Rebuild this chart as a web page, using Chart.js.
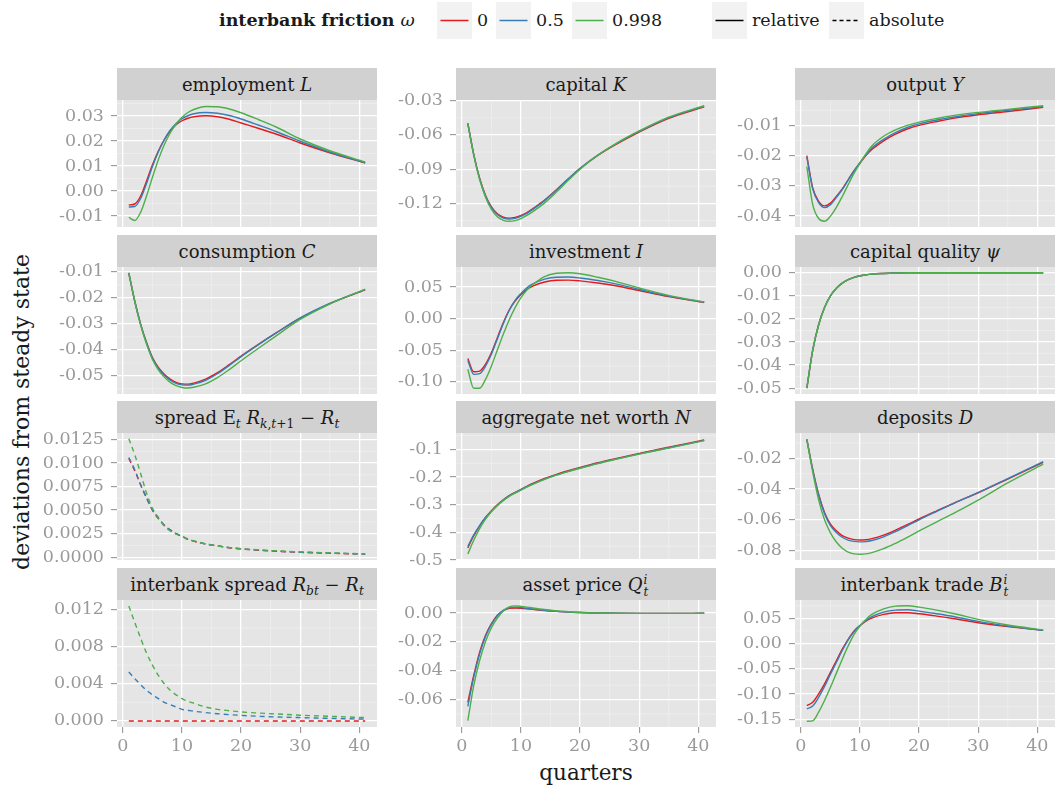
<!DOCTYPE html>
<html lang="en">
<head>
<meta charset="UTF-8">
<title>Impulse responses by interbank friction</title>
<script src="https://cdn.jsdelivr.net/npm/chart.js"></script>
<style>
  body {
    margin: 0;
    width: 1055px;
    height: 791px;
    position: relative;
    overflow: hidden;
    background: #fff;
    font-family: "DejaVu Serif", serif;
    color: #1a1a1a;
  }
  .strip {
    position: absolute;
    height: 32px;
    background: #D1D1D1;
    text-align: center;
    font-size: 18px;
    line-height: 34px;
    white-space: nowrap;
  }
  .strip sub { font-size: 0.68em; vertical-align: -0.3em; line-height: 0; }
  /* stacked super/subscript, e.g. Q_t^i */
  .ss { position: relative; display: inline-block; width: 7px; height: 0; }
  .ss span { position: absolute; left: 1px; font-size: 12px; line-height: 12px; font-style: italic; }
  .ss .up { top: -17px; }
  .ss .dn { top: -5px; }
  .panel { position: absolute; }
  .key { position: absolute; top: 2px; width: 35px; height: 37px; background: #F2F2F2; }
  .lab { position: absolute; top: 8px; font-size: 17.5px; line-height: 24px; white-space: nowrap; }
  #ytitle {
    position: absolute; left: 21px; top: 412px;
    transform: translate(-50%, -50%) rotate(-90deg);
    font-size: 22px; white-space: nowrap;
  }
  #xtitle {
    position: absolute; left: 586px; top: 772px;
    transform: translate(-50%, -50%);
    font-size: 21.5px; white-space: nowrap;
  }
</style>
</head>
<body>
<div id="legend"></div>
<div id="ytitle">deviations from steady state</div>
<div id="xtitle">quarters</div>

<script>
// ---- data (each variable: [omega = 0, omega = 0.5, omega = 0.998]) ----
const quarters = [1, 2, 3, 4, 5, 6, 7, 8, 9, 10, 11, 12, 14, 16, 18, 20, 23, 26, 30, 35, 41];
const xTickValues = [0, 10, 20, 30, 40];
const omegaLabels = ['0', '0.5', '0.998'];
const lineTypeLabels = ['relative', 'absolute'];

const employment = [
  [-0.0056, -0.0052, -0.0020, 0.0040, 0.0105, 0.0160, 0.0205, 0.0240, 0.0265, 0.0281, 0.0291, 0.0297, 0.0301, 0.0297, 0.0287, 0.0272, 0.0250, 0.0227, 0.0192, 0.0153, 0.0112],
  [-0.0064, -0.0062, -0.0030, 0.0030, 0.0098, 0.0157, 0.0205, 0.0243, 0.0270, 0.0289, 0.0301, 0.0309, 0.0314, 0.0311, 0.0302, 0.0288, 0.0263, 0.0237, 0.0199, 0.0156, 0.0113],
  [-0.0105, -0.0118, -0.0085, -0.0020, 0.0055, 0.0125, 0.0185, 0.0232, 0.0268, 0.0295, 0.0314, 0.0326, 0.0338, 0.0337, 0.0328, 0.0313, 0.0285, 0.0255, 0.0208, 0.0161, 0.0116]
];
const capital = [
  [-0.0500, -0.0770, -0.0980, -0.1130, -0.1230, -0.1290, -0.1320, -0.1328, -0.1322, -0.1305, -0.1280, -0.1245, -0.1170, -0.1080, -0.0985, -0.0895, -0.0780, -0.0685, -0.0575, -0.0455, -0.0355],
  [-0.0500, -0.0772, -0.0983, -0.1134, -0.1236, -0.1297, -0.1328, -0.1336, -0.1330, -0.1312, -0.1286, -0.1252, -0.1175, -0.1083, -0.0986, -0.0893, -0.0776, -0.0680, -0.0570, -0.0450, -0.0350],
  [-0.0500, -0.0775, -0.0990, -0.1145, -0.1252, -0.1316, -0.1348, -0.1356, -0.1350, -0.1332, -0.1305, -0.1272, -0.1195, -0.1100, -0.0998, -0.0900, -0.0778, -0.0678, -0.0566, -0.0445, -0.0345]
];
const output = [
  [-0.0200, -0.0307, -0.0351, -0.0366, -0.0357, -0.0335, -0.0310, -0.0280, -0.0250, -0.0225, -0.0200, -0.0180, -0.0151, -0.0129, -0.0112, -0.0100, -0.0087, -0.0076, -0.0065, -0.0054, -0.0040],
  [-0.0205, -0.0310, -0.0355, -0.0372, -0.0362, -0.0338, -0.0312, -0.0281, -0.0250, -0.0222, -0.0197, -0.0175, -0.0146, -0.0124, -0.0107, -0.0095, -0.0082, -0.0072, -0.0061, -0.0050, -0.0038],
  [-0.0236, -0.0362, -0.0408, -0.0417, -0.0400, -0.0371, -0.0335, -0.0296, -0.0258, -0.0225, -0.0194, -0.0168, -0.0136, -0.0115, -0.0100, -0.0089, -0.0077, -0.0067, -0.0057, -0.0047, -0.0035]
];
const consumption = [
  [-0.0105, -0.0212, -0.0301, -0.0372, -0.0430, -0.0468, -0.0494, -0.0513, -0.0525, -0.0531, -0.0532, -0.0528, -0.0513, -0.0488, -0.0457, -0.0424, -0.0378, -0.0334, -0.0278, -0.0222, -0.0169],
  [-0.0105, -0.0212, -0.0302, -0.0374, -0.0432, -0.0471, -0.0498, -0.0517, -0.0529, -0.0535, -0.0536, -0.0532, -0.0517, -0.0492, -0.0460, -0.0426, -0.0379, -0.0334, -0.0277, -0.0221, -0.0168],
  [-0.0103, -0.0213, -0.0305, -0.0378, -0.0437, -0.0477, -0.0505, -0.0525, -0.0538, -0.0545, -0.0547, -0.0544, -0.0531, -0.0507, -0.0476, -0.0442, -0.0393, -0.0345, -0.0283, -0.0224, -0.0166]
];
const investment = [
  [-0.0630, -0.0840, -0.0830, -0.0720, -0.0537, -0.0300, -0.0063, 0.0137, 0.0279, 0.0384, 0.0463, 0.0516, 0.0580, 0.0608, 0.0610, 0.0598, 0.0565, 0.0520, 0.0445, 0.0350, 0.0255],
  [-0.0660, -0.0880, -0.0870, -0.0750, -0.0560, -0.0320, -0.0080, 0.0130, 0.0290, 0.0400, 0.0490, 0.0550, 0.0625, 0.0656, 0.0658, 0.0643, 0.0603, 0.0551, 0.0462, 0.0357, 0.0260],
  [-0.0800, -0.1100, -0.1100, -0.0960, -0.0747, -0.0495, -0.0247, -0.0020, 0.0174, 0.0332, 0.0453, 0.0540, 0.0665, 0.0718, 0.0726, 0.0710, 0.0655, 0.0590, 0.0485, 0.0368, 0.0265]
];
const psiPath = [-0.0500, -0.0335, -0.0225, -0.0150, -0.0100, -0.0067, -0.0045, -0.0030, -0.0020, -0.0013, -0.0009, -0.0006, -0.0003, -0.0001, 0.0000, 0.0000, 0.0000, 0.0000, 0.0000, 0.0000, 0.0000];
const capitalQuality = [psiPath, psiPath, psiPath];
const spread = [
  [0.0105, 0.0092, 0.0077, 0.0063, 0.0050, 0.0041, 0.0034, 0.0029, 0.0025, 0.0022, 0.0019, 0.0017, 0.0014, 0.0012, 0.0010, 0.00088, 0.00074, 0.00063, 0.00052, 0.00042, 0.00033],
  [0.0106, 0.0093, 0.0077, 0.0063, 0.0050, 0.0042, 0.0034, 0.0029, 0.0025, 0.00224, 0.0019, 0.0017, 0.0014, 0.0012, 0.00102, 0.00089, 0.00075, 0.00064, 0.00053, 0.00043, 0.00034],
  [0.0126, 0.0109, 0.0089, 0.0068, 0.0052, 0.0042, 0.0033, 0.0028, 0.00245, 0.0022, 0.0019, 0.00174, 0.00142, 0.0012, 0.00103, 0.00089, 0.00078, 0.00067, 0.00057, 0.00046, 0.00036]
];
const netWorth = [
  [-0.456, -0.412, -0.376, -0.346, -0.321, -0.300, -0.282, -0.267, -0.255, -0.244, -0.233, -0.223, -0.205, -0.190, -0.177, -0.165, -0.148, -0.133, -0.114, -0.092, -0.066],
  [-0.450, -0.409, -0.375, -0.346, -0.322, -0.301, -0.283, -0.268, -0.256, -0.245, -0.234, -0.224, -0.207, -0.192, -0.179, -0.167, -0.150, -0.135, -0.116, -0.094, -0.067],
  [-0.478, -0.428, -0.386, -0.352, -0.325, -0.303, -0.285, -0.270, -0.258, -0.247, -0.236, -0.226, -0.208, -0.193, -0.180, -0.168, -0.151, -0.136, -0.117, -0.095, -0.068]
];
const deposits = [
  [-0.0076, -0.0272, -0.0434, -0.0553, -0.0629, -0.0672, -0.0703, -0.0720, -0.0729, -0.0732, -0.0730, -0.0723, -0.0700, -0.0668, -0.0632, -0.0595, -0.0542, -0.0490, -0.0424, -0.0335, -0.0226],
  [-0.0076, -0.0275, -0.0440, -0.0560, -0.0638, -0.0683, -0.0714, -0.0732, -0.0741, -0.0744, -0.0742, -0.0735, -0.0711, -0.0677, -0.0639, -0.0600, -0.0545, -0.0491, -0.0423, -0.0332, -0.0222],
  [-0.0076, -0.0290, -0.0470, -0.0600, -0.0685, -0.0745, -0.0785, -0.0810, -0.0822, -0.0825, -0.0822, -0.0814, -0.0788, -0.0753, -0.0714, -0.0673, -0.0613, -0.0555, -0.0472, -0.0360, -0.0238]
];
const interbankSpread = [
  [0, 0, 0, 0, 0, 0, 0, 0, 0, 0, 0, 0, 0, 0, 0, 0, 0, 0, 0, 0, 0],
  [0.00526, 0.00455, 0.0039, 0.0033, 0.0028, 0.0024, 0.0020, 0.00175, 0.0015, 0.00125, 0.00115, 0.00105, 0.0009, 0.00078, 0.00068, 0.0006, 0.0005, 0.00043, 0.00036, 0.00028, 0.0002],
  [0.01235, 0.0106, 0.0089, 0.0073, 0.0060, 0.0049, 0.0040, 0.0033, 0.0028, 0.0024, 0.0021, 0.0019, 0.0015, 0.00125, 0.0011, 0.00097, 0.00085, 0.00075, 0.00062, 0.0005, 0.00036]
];
const assetPrice = [
  [-0.0619, -0.0433, -0.0271, -0.0155, -0.0074, -0.0016, 0.0016, 0.0032, 0.0035, 0.0033, 0.0029, 0.0025, 0.0017, 0.0011, 0.0006, 0.0003, 0.0000, -0.0002, -0.0003, -0.0003, -0.0002],
  [-0.0647, -0.0445, -0.0283, -0.0162, -0.0079, -0.0020, 0.0018, 0.0037, 0.0040, 0.0037, 0.0033, 0.0028, 0.0019, 0.0012, 0.0007, 0.0003, 0.0000, -0.0002, -0.0003, -0.0003, -0.0002],
  [-0.0746, -0.0503, -0.0329, -0.0197, -0.0102, -0.0035, 0.0014, 0.0042, 0.0049, 0.0046, 0.0041, 0.0035, 0.0024, 0.0015, 0.0009, 0.0004, 0.0000, -0.0002, -0.0003, -0.0003, -0.0002]
];
const interbankTrade = [
  [-0.1230, -0.1165, -0.1000, -0.0800, -0.0572, -0.0340, -0.0110, 0.0086, 0.0250, 0.0360, 0.0447, 0.0507, 0.0579, 0.0612, 0.0612, 0.0592, 0.0546, 0.0493, 0.0414, 0.0336, 0.0263],
  [-0.1296, -0.1240, -0.1066, -0.0850, -0.0605, -0.0375, -0.0138, 0.0072, 0.0237, 0.0360, 0.0460, 0.0533, 0.0625, 0.0664, 0.0671, 0.0645, 0.0592, 0.0533, 0.0440, 0.0349, 0.0263],
  [-0.1540, -0.1533, -0.1360, -0.1130, -0.0868, -0.0586, -0.0310, -0.0046, 0.0184, 0.0349, 0.0480, 0.0579, 0.0690, 0.0743, 0.0750, 0.0724, 0.0664, 0.0592, 0.0480, 0.0368, 0.0270]
];

// panels in reading order (row by row)
const panelSeries = [employment, capital, output, consumption, investment, capitalQuality,
                     spread, netWorth, deposits, interbankSpread, assetPrice, interbankTrade];
const panelTitles = [
  'employment <i>L</i>', 'capital <i>K</i>', 'output <i>Y</i>',
  'consumption <i>C</i>', 'investment <i>I</i>', 'capital quality <i>ψ</i>',
  'spread E<sub><i>t</i></sub> <i>R</i><sub><i>k</i>,<i>t</i>+1</sub> − <i>R</i><sub><i>t</i></sub>',
  'aggregate net worth <i>N</i>', 'deposits <i>D</i>',
  'interbank spread <i>R</i><sub><i>bt</i></sub> − <i>R</i><sub><i>t</i></sub>',
  'asset price <i>Q</i><span class="ss"><span class="up">i</span><span class="dn">t</span></span>',
  'interbank trade <i>B</i><span class="ss"><span class="up">i</span><span class="dn">t</span></span>'
];
const panelAbsolute = [false, false, false, false, false, false, true, false, false, true, false, false];
const yTickValues = [
  [-0.01, 0, 0.01, 0.02, 0.03],
  [-0.12, -0.09, -0.06, -0.03],
  [-0.04, -0.03, -0.02, -0.01],
  [-0.05, -0.04, -0.03, -0.02, -0.01],
  [-0.10, -0.05, 0, 0.05],
  [-0.05, -0.04, -0.03, -0.02, -0.01, 0],
  [0, 0.0025, 0.005, 0.0075, 0.01, 0.0125],
  [-0.5, -0.4, -0.3, -0.2, -0.1],
  [-0.08, -0.06, -0.04, -0.02],
  [0, 0.004, 0.008, 0.012],
  [-0.06, -0.04, -0.02, 0],
  [-0.15, -0.10, -0.05, 0, 0.05]
];
const yTickDecimals = [2, 2, 2, 2, 2, 2, 4, 1, 2, 3, 2, 2];
const yLimits = [
  [-0.0144, 0.0364], [-0.1406, -0.0295], [-0.0436, -0.0016],
  [-0.0570, -0.0081], [-0.1191, 0.0817], [-0.0525, 0.0025],
  [-0.0003, 0.0132], [-0.4995, -0.0405], [-0.0862, -0.0035],
  [-0.00065, 0.0130], [-0.0790, 0.0090], [-0.1655, 0.0865]
];

// ---- look ----
const seriesColors = ['#E41A1C', '#377EB8', '#4DAF4A'];
const stripTop = [68, 235, 401, 568];
const colLeft = [117, 456, 795];
const STRIP_H = 32, PLOT_H = 127, PLOT_W = 260, AXIS_W = 80, PAD = 12, XAXIS_H = 42;
const tickFont = { family: 'DejaVu Serif', size: 17.5 };
const tickColor = '#9A9A9A';

// legend
const legend = document.getElementById('legend');
function addEl(html) { legend.insertAdjacentHTML('beforeend', html); }
function keyBox(left, color, dash) {
  addEl('<div class="key" style="left:' + left + 'px"><svg width="35" height="37">' +
    '<line x1="3.5" y1="18.5" x2="31.5" y2="18.5" stroke="' + color + '" stroke-width="1.5"' +
    (dash ? ' stroke-dasharray="4 3"' : '') + '/></svg></div>');
}
addEl('<div class="lab" style="left:219px;font-weight:bold">interbank friction <span style="font-weight:normal;font-style:italic">ω</span></div>');
const omegaKeyLeft = [437, 496, 572];
omegaLabels.forEach((lab, k) => {
  keyBox(omegaKeyLeft[k], seriesColors[k], false);
  addEl('<div class="lab" style="left:' + (omegaKeyLeft[k] + 40) + 'px">' + lab + '</div>');
});
const typeKeyLeft = [712, 829];
lineTypeLabels.forEach((lab, k) => {
  keyBox(typeKeyLeft[k], '#000', k === 1);
  addEl('<div class="lab" style="left:' + (typeKeyLeft[k] + 40) + 'px">' + lab + '</div>');
});

// panel background + minor grid lines, drawn before the major grid
function minorValues(ticks, min, max) {
  const vals = ticks.map(t => t.value);
  const step = vals[1] - vals[0];
  const out = [];
  for (let k = -1; k < vals.length; k++) {
    const v = vals[0] + (k + 0.5) * step;
    if (v > min && v < max) out.push(v);
  }
  return out;
}
const panelBackground = {
  id: 'panelBackground',
  beforeDraw(chart) {
    const { ctx, chartArea: a, scales: { x, y } } = chart;
    ctx.save();
    ctx.fillStyle = '#E5E5E5';
    ctx.fillRect(a.left, a.top, a.right - a.left, a.bottom - a.top);
    ctx.strokeStyle = '#F2F2F2';
    ctx.lineWidth = 0.6;
    ctx.beginPath();
    minorValues(x.ticks, x.min, x.max).forEach(v => {
      const p = x.getPixelForValue(v);
      ctx.moveTo(p, a.top); ctx.lineTo(p, a.bottom);
    });
    minorValues(y.ticks, y.min, y.max).forEach(v => {
      const p = y.getPixelForValue(v);
      ctx.moveTo(a.left, p); ctx.lineTo(a.right, p);
    });
    ctx.stroke();
    ctx.restore();
  }
};

panelSeries.forEach((series, i) => {
  const row = Math.floor(i / 3), col = i % 3;
  const bottomRow = row === 3;
  const dec = yTickDecimals[i];

  const strip = document.createElement('div');
  strip.className = 'strip';
  strip.style.left = colLeft[col] + 'px';
  strip.style.top = stripTop[row] + 'px';
  strip.style.width = PLOT_W + 'px';
  strip.innerHTML = panelTitles[i];

  const canvas = document.createElement('canvas');
  canvas.className = 'panel';
  canvas.width = AXIS_W + PLOT_W;
  canvas.height = PAD + PLOT_H + (bottomRow ? XAXIS_H : PAD);
  canvas.style.left = (colLeft[col] - AXIS_W) + 'px';
  canvas.style.top = (stripTop[row] + STRIP_H - PAD) + 'px';
  document.body.appendChild(canvas);
  document.body.appendChild(strip);

  new Chart(canvas, {
    type: 'line',
    data: {
      datasets: series.map((vals, k) => ({
        label: 'ω = ' + omegaLabels[k],
        data: quarters.map((q, j) => ({ x: q, y: vals[j] })),
        borderColor: seriesColors[k],
        borderWidth: 1.4,
        borderDash: panelAbsolute[i] ? [5, 4] : [],
        pointRadius: 0,
        fill: false,
        cubicInterpolationMode: 'monotone',
        order: 3 - k
      }))
    },
    options: {
      responsive: false,
      animation: false,
      events: [],
      layout: { padding: { top: PAD, bottom: bottomRow ? 0 : PAD, left: 0, right: 0 } },
      plugins: { legend: { display: false }, tooltip: { enabled: false } },
      scales: {
        x: {
          type: 'linear',
          min: -1,
          max: 43,
          afterBuildTicks: s => { s.ticks = xTickValues.map(v => ({ value: v })); },
          afterFit: s => { s.height = bottomRow ? XAXIS_H : 0; s.paddingLeft = 0; s.paddingRight = 0; },
          border: { display: false },
          grid: { color: '#FFFFFF', lineWidth: 1.3, drawTicks: bottomRow, tickLength: 6, tickColor: '#8C8C8C', tickWidth: 1 },
          ticks: { display: bottomRow, autoSkip: false, maxRotation: 0, color: tickColor, font: tickFont, padding: 3 }
        },
        y: {
          min: yLimits[i][0],
          max: yLimits[i][1],
          afterBuildTicks: s => { s.ticks = yTickValues[i].map(v => ({ value: v })); },
          afterFit: s => { s.width = AXIS_W; s.paddingTop = 0; s.paddingBottom = 0; },
          border: { display: false },
          grid: { color: '#FFFFFF', lineWidth: 1.3, drawTicks: true, tickLength: 6, tickColor: '#8C8C8C', tickWidth: 1 },
          ticks: { autoSkip: false, color: tickColor, font: tickFont, padding: 7, callback: v => v.toFixed(dec) }
        }
      }
    },
    plugins: [panelBackground]
  });
});
</script>
</body>
</html>
